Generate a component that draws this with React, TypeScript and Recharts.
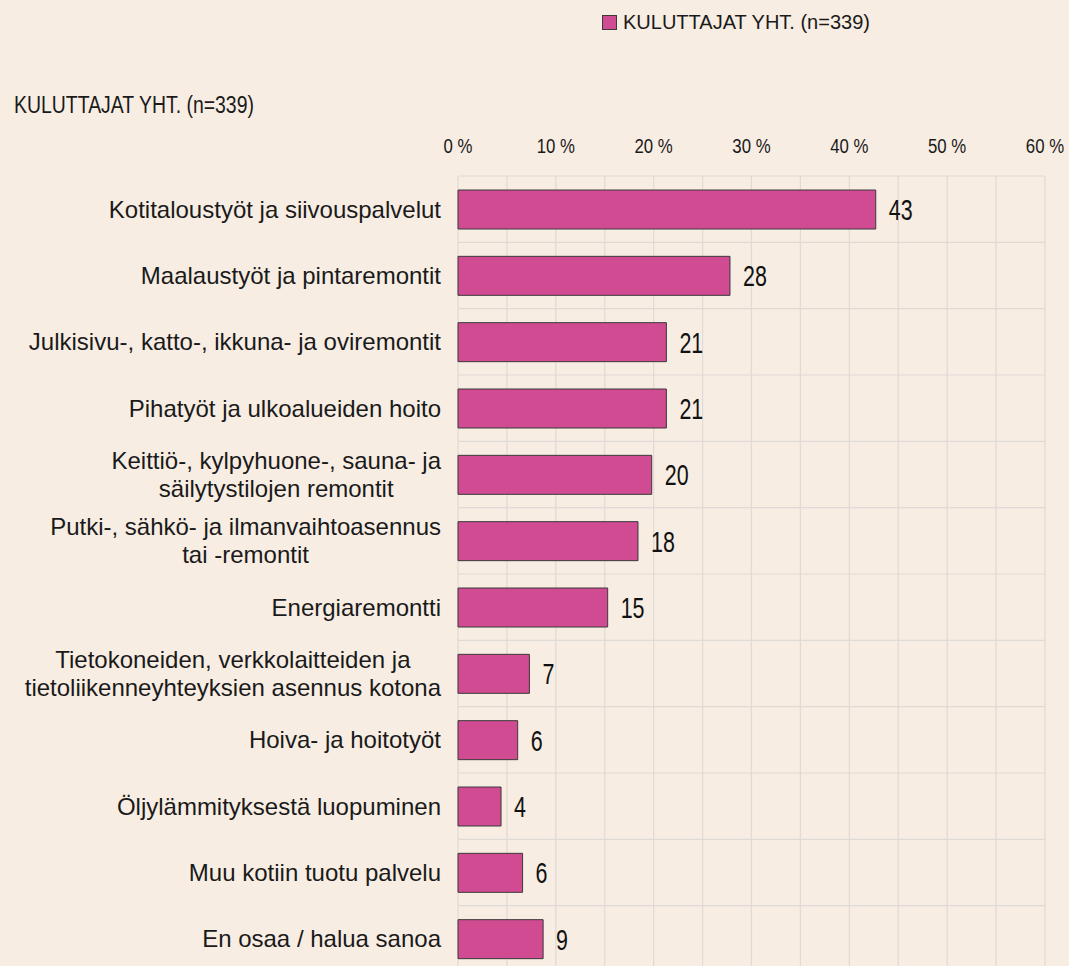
import React from 'react'
import { BarChart, Bar, XAxis, YAxis, CartesianGrid, LabelList } from 'recharts'

const categories = [
  'Kotitaloustyöt ja siivouspalvelut',
  'Maalaustyöt ja pintaremontit',
  'Julkisivu-, katto-, ikkuna- ja oviremontit',
  'Pihatyöt ja ulkoalueiden hoito',
  'Keittiö-, kylpyhuone-, sauna- ja\nsäilytystilojen remontit',
  'Putki-, sähkö- ja ilmanvaihtoasennus\ntai -remontit',
  'Energiaremontti',
  'Tietokoneiden, verkkolaitteiden ja\ntietoliikenneyhteyksien asennus kotona',
  'Hoiva- ja hoitotyöt',
  'Öljylämmityksestä luopuminen',
  'Muu kotiin tuotu palvelu',
  'En osaa / halua sanoa',
]
const shares = [42.7, 27.8, 21.3, 21.3, 19.8, 18.4, 15.3, 7.3, 6.1, 4.4, 6.6, 8.7]
const shareLabels = [43, 28, 21, 21, 20, 18, 15, 7, 6, 4, 6, 9]
const xTicks = [0, 10, 20, 30, 40, 50, 60]
const gridSteps = [0, 5, 10, 15, 20, 25, 30, 35, 40, 45, 50, 55, 60]
const seriesName = 'KULUTTAJAT YHT. (n=339)'

const data = categories.map((name, i) => ({ name, share: shares[i], label: shareLabels[i] }))

const BG = '#f8ede3'
const PINK = '#d04b91'
const INK = '#1a1a1a'
const SANS = "'Liberation Sans', Arial, Helvetica, sans-serif"
const TICK_SIZE = 24

let measureCtx: CanvasRenderingContext2D | null = null
const measure = (s: string) => {
  if (!measureCtx) {
    measureCtx = document.createElement('canvas').getContext('2d')
  }
  if (!measureCtx) return s.length * 11
  measureCtx.font = `${TICK_SIZE}px ${SANS}`
  return measureCtx.measureText(s).width
}

const CategoryTick = (props: any) => {
  const { x, y, payload } = props
  const lines = String(payload.value).split('\n')
  const lineH = 28
  const style = { fontFamily: SANS, fontSize: TICK_SIZE, fill: INK }
  if (lines.length === 1) {
    return (
      <text x={x} y={y} dy="0.36em" textAnchor="end" style={style}>
        {lines[0]}
      </text>
    )
  }
  const maxW = Math.max(...lines.map(measure))
  const cx = x - maxW / 2
  return (
    <g>
      {lines.map((l, i) => (
        <text key={i} x={cx} y={y + (i - (lines.length - 1) / 2) * lineH} dy="0.36em" textAnchor="middle" style={style}>
          {l}
        </text>
      ))}
    </g>
  )
}

// condensed look: squeeze a regular sans horizontally
const PercentTick = (props: any) => {
  const { x, y, payload } = props
  return (
    <text
      transform={`translate(${x}, ${y}) scale(0.8, 1)`}
      textAnchor="middle"
      style={{ fontFamily: SANS, fontSize: 21, fill: INK }}
    >
      {`${payload.value} %`}
    </text>
  )
}

const ValueLabel = (props: any) => {
  const { x, y, width, height, value } = props
  return (
    <text
      transform={`translate(${x + width + 13}, ${y + height / 2}) scale(0.74, 1)`}
      dy="0.36em"
      style={{ fontFamily: SANS, fontSize: 29, fill: '#111' }}
    >
      {value}
    </text>
  )
}

export default function App() {
  return (
    <div style={{ position: 'fixed', left: 0, top: 0, width: 1069, height: 966, overflow: 'hidden', background: BG }}>
      <div style={{ position: 'absolute', left: 602, top: 11, display: 'flex', alignItems: 'center', fontFamily: SANS, fontSize: 20, color: INK, whiteSpace: 'nowrap' }}>
        <span style={{ display: 'inline-block', width: 13, height: 13, background: PINK, border: '1px solid #3a3a3a', marginRight: 6 }} />
        {seriesName}
      </div>
      <div style={{ position: 'absolute', left: 14, top: 92, fontFamily: SANS, fontSize: 23, color: INK, whiteSpace: 'nowrap', transform: 'scaleX(0.845)', transformOrigin: 'left center' }}>
        {seriesName}
      </div>
      <div style={{ position: 'absolute', left: 0, top: 0 }}>
        <BarChart
          width={1069}
          height={972}
          data={data}
          layout="vertical"
          margin={{ top: 146, right: 24, bottom: 0, left: 0 }}
          barCategoryGap={0}
        >
          <CartesianGrid
            stroke="#dedad5"
            strokeWidth={1.2}
            horizontalCoordinatesGenerator={({ offset }: any) =>
              categories.map((_, i) => offset.top + (i * offset.height) / categories.length).concat([offset.top + offset.height])
            }
            verticalCoordinatesGenerator={({ offset }: any) =>
              gridSteps.map((v) => offset.left + (v / 60) * offset.width)
            }
          />
          <XAxis
            type="number"
            orientation="top"
            domain={[0, 60]}
            ticks={xTicks}
            axisLine={false}
            tickLine={false}
            tickSize={0}
            tickMargin={23}
            height={30}
            tick={<PercentTick />}
          />
          <YAxis
            type="category"
            dataKey="name"
            width={458}
            axisLine={false}
            tickLine={false}
            tickSize={0}
            tickMargin={17}
            interval={0}
            tick={<CategoryTick />}
          />
          <Bar dataKey="share" fill={PINK} stroke="#3a3a3a" strokeWidth={1} barSize={39} isAnimationActive={false}>
            <LabelList dataKey="label" content={<ValueLabel />} />
          </Bar>
        </BarChart>
      </div>
    </div>
  )
}
